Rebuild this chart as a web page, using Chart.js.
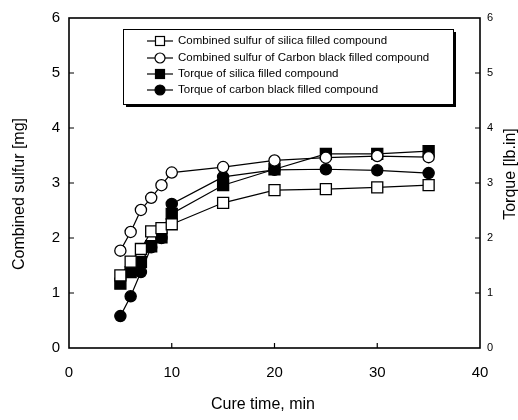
<!DOCTYPE html>
<html><head><meta charset="utf-8">
<script src="https://cdn.jsdelivr.net/npm/chart.js@4"></script>
<style>html,body{margin:0;padding:0;background:#fff}</style>
</head><body>
<canvas id="c" width="518" height="420" style="width:518px;height:420px;display:block"></canvas>
<script>
const cureTime = [5, 6, 7, 8, 9, 10, 15, 20, 25, 30, 35];
const sulfurSilica = [1.32, 1.57, 1.80, 2.12, 2.18, 2.25, 2.64, 2.87, 2.89, 2.92, 2.96];
const sulfurCarbon = [1.77, 2.11, 2.51, 2.73, 2.96, 3.19, 3.29, 3.41, 3.46, 3.49, 3.47];
const torqueSilica = [1.17, 1.38, 1.56, 1.85, 2.01, 2.44, 2.96, 3.25, 3.53, 3.53, 3.58];
const torqueCarbon = [0.58, 0.94, 1.38, 1.83, 2.00, 2.62, 3.11, 3.24, 3.25, 3.23, 3.18];
const xTicks = [0, 10, 20, 30, 40];
const yTicks = [0, 1, 2, 3, 4, 5, 6];
const seriesNames = [
  'Combined sulfur of silica filled compound',
  'Combined sulfur of Carbon black filled compound',
  'Torque of silica filled compound',
  'Torque of carbon black filled compound'
];
const xTitle = 'Cure time, min';
const yTitle = 'Combined sulfur [mg]';
const y2Title = 'Torque [lb.in]';

const FONT = "'Liberation Sans', Arial, sans-serif";
const pts = arr => cureTime.map((t, i) => ({x: t, y: arr[i]}));

function ds(label, data, style, fill, axis, r) {
  return {
    label, data: pts(data), yAxisID: axis,
    borderColor: '#000', borderWidth: 1.2,
    pointStyle: style, pointRadius: r, pointHoverRadius: r,
    pointBackgroundColor: fill, pointBorderColor: '#000', pointBorderWidth: 1.3,
    showLine: true, tension: 0
  };
}

const decor = {
  id: 'decor',
  afterDraw(chart) {
    const ctx = chart.ctx, a = chart.chartArea;
    const xs = chart.scales.x, ys = chart.scales.y, y2 = chart.scales.y2;
    ctx.save();
    ctx.strokeStyle = '#000';
    ctx.lineWidth = 1.6;
    ctx.strokeRect(a.left, a.top, a.right - a.left, a.bottom - a.top);
    ctx.lineWidth = 1.2;
    ctx.beginPath();
    xTicks.slice(1, -1).forEach(v => { const px = xs.getPixelForValue(v); ctx.moveTo(px, a.bottom); ctx.lineTo(px, a.bottom - 5); });
    yTicks.slice(1, -1).forEach(v => {
      const py = ys.getPixelForValue(v); ctx.moveTo(a.left, py); ctx.lineTo(a.left + 5, py);
      const py2 = y2.getPixelForValue(v); ctx.moveTo(a.right, py2); ctx.lineTo(a.right - 5, py2);
    });
    ctx.stroke();

    // axis titles
    ctx.fillStyle = '#000';
    ctx.font = '16px ' + FONT;
    ctx.textAlign = 'center'; ctx.textBaseline = 'middle';
    ctx.fillText(xTitle, 263, 405);
    ctx.save(); ctx.translate(20, 194); ctx.rotate(-Math.PI / 2);
    ctx.fillText(yTitle, 0, 0); ctx.restore();
    ctx.save(); ctx.translate(511, 174); ctx.rotate(-Math.PI / 2);
    ctx.fillText(y2Title, 0, 0); ctx.restore();

    // legend box
    const bx = 123, by = 29, bw = 330, bh = 75;
    ctx.fillStyle = '#000';
    ctx.fillRect(bx + 3, by + 3, bw, bh);
    ctx.fillStyle = '#fff';
    ctx.fillRect(bx, by, bw, bh);
    ctx.lineWidth = 1;
    ctx.strokeRect(bx + 0.5, by + 0.5, bw, bh);
    const rows = [41, 58, 74, 90];
    chart.data.datasets.forEach((d, i) => {
      const cy = rows[i];
      ctx.beginPath(); ctx.lineWidth = 1.2;
      ctx.moveTo(147, cy); ctx.lineTo(173, cy); ctx.stroke();
      ctx.fillStyle = d.pointBackgroundColor; ctx.lineWidth = 1.2;
      if (d.pointStyle === 'rect') {
        ctx.fillRect(155.5, cy - 4.5, 9, 9); ctx.strokeRect(155.5, cy - 4.5, 9, 9);
      } else {
        ctx.beginPath(); ctx.arc(160, cy, 5, 0, Math.PI * 2); ctx.fill(); ctx.stroke();
      }
      ctx.fillStyle = '#000';
      ctx.font = '11.5px ' + FONT;
      ctx.textAlign = 'left';
      ctx.fillText(d.label, 178, cy);
    });
    ctx.restore();
  }
};

new Chart(document.getElementById('c'), {
  type: 'scatter',
  data: {
    datasets: [
      ds(seriesNames[0], sulfurSilica, 'rect', '#fff', 'y', 7.8),
      ds(seriesNames[1], sulfurCarbon, 'circle', '#fff', 'y', 5.6),
      ds(seriesNames[2], torqueSilica, 'rect', '#000', 'y2', 7.8),
      ds(seriesNames[3], torqueCarbon, 'circle', '#000', 'y2', 5.6)
    ]
  },
  options: {
    responsive: false, animation: false, devicePixelRatio: 1,
    layout: {padding: {top: 16, left: 0, right: 0, bottom: 0}},
    plugins: {legend: {display: false}, tooltip: {enabled: false}},
    scales: {
      x: {
        type: 'linear', min: 0, max: 40,
        afterBuildTicks: s => { s.ticks = xTicks.map(v => ({value: v})); },
        afterFit: s => { s.height = 72; },
        grid: {display: false, drawTicks: false}, border: {display: false},
        ticks: {color: '#000', font: {family: FONT, size: 15}, padding: 16, maxRotation: 0}
      },
      y: {
        type: 'linear', position: 'left', min: 0, max: 6,
        afterBuildTicks: s => { s.ticks = yTicks.map(v => ({value: v})); },
        afterFit: s => { s.width = 69; },
        grid: {display: false, drawTicks: false}, border: {display: false},
        ticks: {color: '#000', font: {family: FONT, size: 15}, padding: 9}
      },
      y2: {
        type: 'linear', position: 'right', min: 0, max: 6,
        afterBuildTicks: s => { s.ticks = yTicks.map(v => ({value: v})); },
        afterFit: s => { s.width = 38; },
        grid: {display: false, drawTicks: false}, border: {display: false},
        ticks: {color: '#000', font: {family: FONT, size: 11}, padding: 7}
      }
    }
  },
  plugins: [decor]
});
</script>
</body></html>
